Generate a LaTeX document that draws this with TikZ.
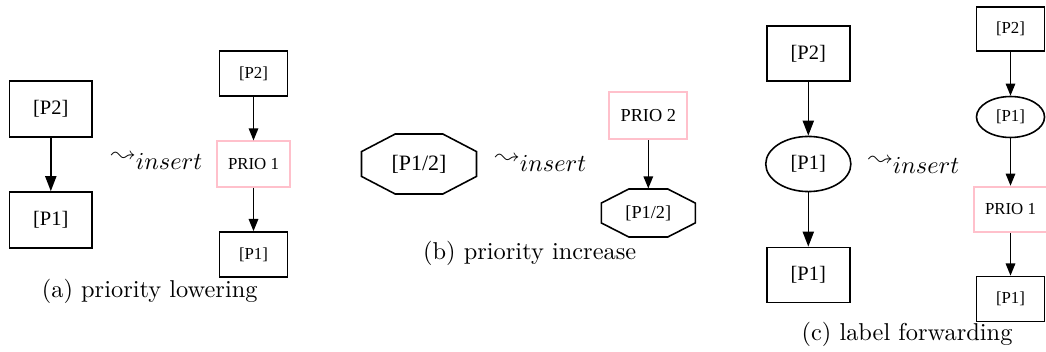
\documentclass[tikz,border=0pt]{standalone}
\usepackage{fontspec}
\usepackage{latexsym}
\newfontfamily\gvfont{Liberation Serif}
\usetikzlibrary{arrows.meta,shapes.geometric,calc}
\definecolor{prio}{RGB}{255,192,203}

% graphviz-like octagon drawn around a (borderless) node: #2 = half width, #3 = half height
\newcommand\gvoct[3]{%
  \draw[gvline]
    ($(#1.center)+({0.414*#2},{-#3})$) -- ($(#1.center)+({#2},{-0.414*#3})$) --
    ($(#1.center)+({#2},{0.414*#3})$) -- ($(#1.center)+({0.414*#2},{#3})$) --
    ($(#1.center)+({-0.414*#2},{#3})$) -- ($(#1.center)+({-#2},{0.414*#3})$) --
    ($(#1.center)+({-#2},{-0.414*#3})$) -- ($(#1.center)+({-0.414*#2},{-#3})$) -- cycle;}

\tikzset{
  gvline/.style={line width=0.65pt},
  gvbox/.style={draw, gvline, rectangle, inner sep=0pt},
  gvell/.style={draw, gvline, ellipse, inner sep=0pt},
  gvoctnode/.style={rectangle, inner sep=0pt},
  prionode/.style={draw=prio, line width=0.8pt, rectangle, inner sep=0pt},
  bigtext/.style={font=\gvfont\fontsize{8.4}{10}\selectfont},
  midtext/.style={font=\gvfont\fontsize{7.5}{9}\selectfont},
  smalltext/.style={font=\gvfont\fontsize{6.9}{8}\selectfont},
  hugetext/.style={font=\gvfont\fontsize{9}{11}\selectfont},
  bigedge/.style={gvline, -{Triangle[length=6.2pt,width=4.6pt]}},
  smalledge/.style={gvline, -{Triangle[length=5pt,width=3.9pt]}},
  leadlabel/.style={anchor=base west, inner sep=0pt, font=\fontsize{10}{12}\selectfont},
  subcap/.style={anchor=base, inner sep=0pt, font=\fontsize{10}{12}\selectfont},
}

\begin{document}
\begin{tikzpicture}[x=0.41pt,y=-0.41pt]
\useasboundingbox (0,0) rectangle (1046,352);

% (a) priority lowering
\node[gvbox,bigtext,minimum width=34pt,minimum height=23pt] (a1) at (50.8,109) {[P2]};
\node[gvbox,bigtext,minimum width=34pt,minimum height=23pt] (a2) at (50.8,220) {[P1]};
\draw[bigedge] (a1) -- (a2);
\node[leadlabel] (la) at (111,162) {$\leadsto_{\textstyle insert}$};
\node[gvbox,smalltext,minimum width=27.9pt,minimum height=18.5pt] (a3) at (253.5,73.5) {[P2]};
\node[prionode,smalltext,minimum width=29.9pt,minimum height=18.5pt] (a4) at (253.5,164) {PRIO 1};
\node[gvbox,smalltext,minimum width=27.9pt,minimum height=18.5pt] (a5) at (253.5,254.5) {[P1]};
\draw[smalledge] (a3) -- (a4);
\draw[smalledge] (a4) -- (a5);
\node[subcap] (capa) at (149.7,297) {(a)\ priority lowering};

% (b) priority increase
\node[gvoctnode,hugetext,minimum width=47.2pt,minimum height=24.6pt] (b1) at (419,164) {[P1/2]};
\gvoct{b1}{57.5}{30}
\node[leadlabel] (lb) at (495,164) {$\leadsto_{\textstyle insert}$};
\node[prionode,midtext,minimum width=32pt,minimum height=19.6pt] (b2) at (648.3,115.5) {PRIO 2};
\node[gvoctnode,midtext,minimum width=38.5pt,minimum height=19.7pt] (b3) at (648.3,213) {[P1/2]};
\gvoct{b3}{47}{24}
\draw[smalledge] (b2) -- (b3);
\node[subcap] (capb) at (529.7,259.7) {(b)\ priority increase};

% (c) label forwarding
\node[gvbox,bigtext,minimum width=34pt,minimum height=22.6pt] (c1) at (808.3,53.3) {[P2]};
\node[gvell,bigtext,minimum width=34.9pt,minimum height=22.6pt] (c2) at (808.3,164) {[P1]};
\node[gvbox,bigtext,minimum width=34pt,minimum height=22.6pt] (c3) at (808.3,275) {[P1]};
\draw[bigedge] (c1) -- (c2);
\draw[bigedge] (c2) -- (c3);
\node[leadlabel] (lc) at (868,166) {$\leadsto_{\textstyle insert}$};
\node[gvbox,smalltext,minimum width=27.9pt,minimum height=18pt] (c4) at (1010.5,29) {[P2]};
\node[gvell,smalltext,minimum width=27.9pt,minimum height=16.8pt] (c5) at (1010.5,117) {[P1]};
\node[prionode,smalltext,minimum width=29.9pt,minimum height=18.5pt] (c6) at (1010.5,209.3) {PRIO 1};
\node[gvbox,smalltext,minimum width=27.9pt,minimum height=18.5pt] (c7) at (1010.5,299) {[P1]};
\draw[smalledge] (c4) -- (c5);
\draw[smalledge] (c5) -- (c6);
\draw[smalledge] (c6) -- (c7);
\node[subcap] (capc) at (907,340.5) {(c)\ label forwarding};
\end{tikzpicture}
\end{document}
